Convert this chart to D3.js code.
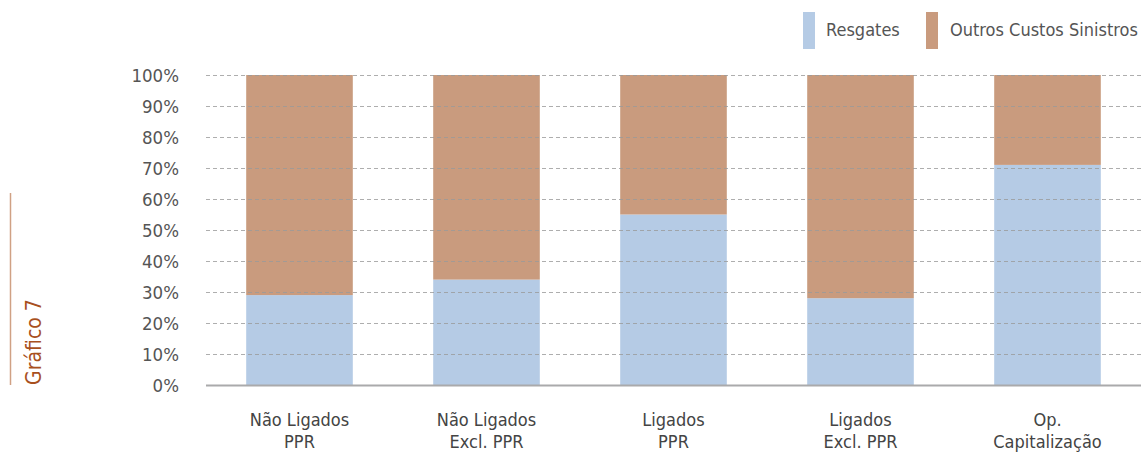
<!DOCTYPE html>
<html>
<head>
<meta charset="utf-8">
<script src="https://cdn.jsdelivr.net/npm/d3@7"></script>
<style>
  html, body { margin: 0; padding: 0; background: #fff; }
  svg { display: block; }
</style>
</head>
<body>
<svg id="chart" width="1141" height="454"></svg>
<script>
// Categories (two-line labels) and series shares, in percent
const categories = [
  ["Não Ligados", "PPR"],
  ["Não Ligados", "Excl. PPR"],
  ["Ligados", "PPR"],
  ["Ligados", "Excl. PPR"],
  ["Op.", "Capitalização"]
];
const resgates = [29, 34, 55, 28, 71];
const outrosCustos = [71, 66, 45, 72, 29];
const seriesNames = ["Resgates", "Outros Custos Sinistros"];
const seriesColors = ["#b5cbe5", "#c99b7e"];
const yTicks = [0, 10, 20, 30, 40, 50, 60, 70, 80, 90, 100];
const sideTitle = "Gráfico 7";

const FONT = "'DejaVu Sans Condensed', 'DejaVu Sans', sans-serif";

const svg = d3.select("#chart");
const margin = { left: 206, right: 0, top: 75, bottom: 69 };
const W = 1141, H = 454;

const keys = categories.map(c => c.join(" "));
const rows = keys.map((k, i) => ({ key: k, resgates: resgates[i], outros: outrosCustos[i] }));

const x = d3.scaleBand()
  .domain(keys)
  .range([margin.left, W - margin.right])
  .paddingInner(0.43)
  .paddingOuter(0.215);

const y = d3.scaleLinear()
  .domain([0, 100])
  .range([H - margin.bottom, margin.top]);

const stacked = d3.stack().keys(["resgates", "outros"])(rows);

// Stacked bars
svg.append("g")
  .selectAll("g")
  .data(stacked)
  .join("g")
  .attr("fill", (d, i) => seriesColors[i])
  .selectAll("rect")
  .data(d => d)
  .join("rect")
  .attr("x", d => x(d.data.key))
  .attr("width", x.bandwidth())
  .attr("y", d => y(d[1]))
  .attr("height", d => y(d[0]) - y(d[1]));

// Dashed gridlines, drawn over the bars
svg.append("g")
  .selectAll("line")
  .data(yTicks.filter(t => t > 0))
  .join("line")
  .attr("x1", margin.left)
  .attr("x2", W - margin.right)
  .attr("y1", d => Math.round(y(d)) + 0.5)
  .attr("y2", d => Math.round(y(d)) + 0.5)
  .attr("stroke", "#9a9a9a")
  .attr("stroke-opacity", 0.8)
  .attr("stroke-width", 1)
  .attr("stroke-dasharray", "4,3");

// Baseline
svg.append("line")
  .attr("x1", margin.left)
  .attr("x2", W - margin.right)
  .attr("y1", y(0) + 0.5)
  .attr("y2", y(0) + 0.5)
  .attr("stroke", "#aaaaab")
  .attr("stroke-width", 2);

// Y axis labels
const yAxis = d3.axisLeft(y)
  .tickValues(yTicks)
  .tickFormat(d => d + "%")
  .tickSize(0)
  .tickPadding(0);
const yg = svg.append("g")
  .attr("transform", `translate(179,0)`)
  .call(yAxis);
yg.select(".domain").remove();
yg.selectAll("text")
  .attr("fill", "#555")
  .attr("font-family", FONT)
  .attr("font-size", 18.5)
  .attr("dy", "0.36em");

// X axis labels (two lines)
svg.append("g")
  .selectAll("text")
  .data(categories)
  .join("text")
  .attr("x", (d, i) => x(keys[i]) + x.bandwidth() / 2)
  .attr("y", 426)
  .attr("text-anchor", "middle")
  .attr("fill", "#444")
  .attr("font-family", FONT)
  .attr("font-size", 18)
  .each(function (d) {
    const t = d3.select(this);
    d.forEach((line, j) => {
      t.append("tspan")
        .attr("x", t.attr("x"))
        .attr("dy", j === 0 ? 0 : 22)
        .text(line);
    });
  });

// Legend
const legendItems = [
  { name: seriesNames[0], color: seriesColors[0], sx: 803, tx: 826 },
  { name: seriesNames[1], color: seriesColors[1], sx: 926, tx: 950 }
];
const lg = svg.append("g");
lg.selectAll("rect")
  .data(legendItems)
  .join("rect")
  .attr("x", d => d.sx)
  .attr("y", 12)
  .attr("width", 12)
  .attr("height", 37)
  .attr("fill", d => d.color);
lg.selectAll("text")
  .data(legendItems)
  .join("text")
  .attr("x", d => d.tx)
  .attr("y", 30)
  .attr("dy", "0.36em")
  .attr("fill", "#555")
  .attr("font-family", FONT)
  .attr("font-size", 18)
  .text(d => d.name);

// Side title with rule
svg.append("line")
  .attr("x1", 10.5).attr("x2", 10.5)
  .attr("y1", 193).attr("y2", 385)
  .attr("stroke", "#d0a184")
  .attr("stroke-width", 1.5);
svg.append("text")
  .attr("transform", "translate(41,385) rotate(-90)")
  .attr("fill", "#a8501e")
  .attr("font-family", FONT)
  .attr("font-size", 21)
  .attr("font-weight", 500)
  .text(sideTitle);
</script>
</body>
</html>
